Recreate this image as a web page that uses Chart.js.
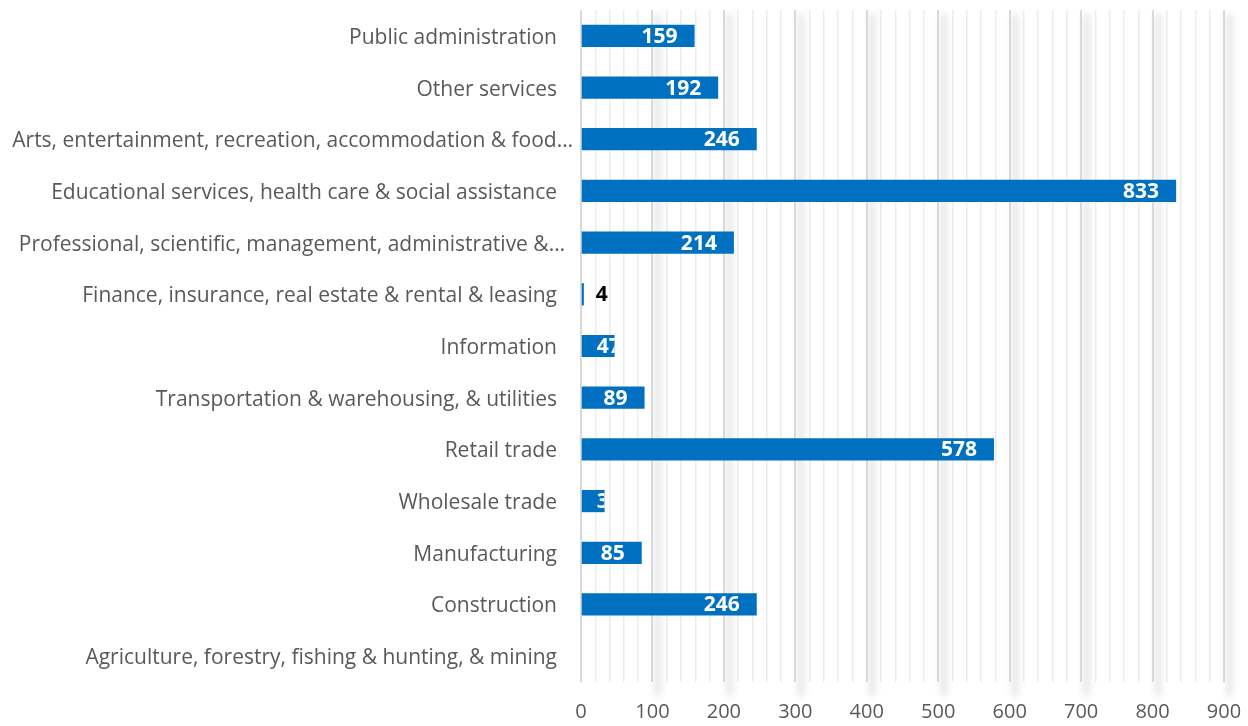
<!DOCTYPE html>
<html><head><meta charset="utf-8">
<script src="https://cdn.jsdelivr.net/npm/chart.js@4/dist/chart.umd.min.js"></script>
<style>html,body{margin:0;padding:0;background:#fff;}#wrap{width:1248px;height:726px;}</style>
</head><body><div id="wrap"><canvas id="c" width="1248" height="726"></canvas></div>
<script>
const categories = [
  "Public administration",
  "Other services",
  "Arts, entertainment, recreation, accommodation & food\u2026",
  "Educational services, health care & social assistance",
  "Professional, scientific, management, administrative &\u2026",
  "Finance, insurance, real estate & rental & leasing",
  "Information",
  "Transportation & warehousing, & utilities",
  "Retail trade",
  "Wholesale trade",
  "Manufacturing",
  "Construction",
  "Agriculture, forestry, fishing & hunting, & mining"
];
const values = [159, 192, 246, 833, 214, 4, 47, 89, 578, 33, 85, 246, null];
const axisMin = 0, axisMax = 900, majorStep = 100, minorStep = 20;

const FONT = "'Open Sans', 'DejaVu Sans', sans-serif";

const shadowPlugin = {
  id: 'majorShadow',
  beforeDatasetsDraw(chart) {
    const {ctx, chartArea, scales} = chart;
    const xs = scales.x;
    ctx.save();
    ctx.filter = 'blur(3px)';
    ctx.fillStyle = 'rgba(0,0,0,0.09)';
    for (let v = axisMin + majorStep; v <= axisMax; v += majorStep) {
      const px = xs.getPixelForValue(v);
      ctx.fillRect(px + 2, chartArea.top + 4, 7, chartArea.bottom - chartArea.top + 10);
    }
    ctx.restore();
    ctx.save();
    ctx.strokeStyle = '#d9d9d9';
    ctx.lineWidth = 2;
    for (let v = axisMin; v <= axisMax; v += majorStep) {
      const px = Math.round(xs.getPixelForValue(v));
      ctx.beginPath();
      ctx.moveTo(px, chartArea.top);
      ctx.lineTo(px, chartArea.bottom);
      ctx.stroke();
    }
    ctx.restore();
  }
};

// Category labels drawn at the category scale's positions (truncated labels overhang a bit, as in the original)
const catLabelPlugin = {
  id: 'catLabels',
  afterDraw(chart, args, opts) {
    const {ctx, scales} = chart;
    const ys = scales.y;
    ctx.save();
    ctx.font = "21px " + FONT;
    ctx.fillStyle = '#595959';
    ctx.textAlign = 'right';
    ctx.textBaseline = 'middle';
    categories.forEach((lab, i) => {
      const shift = lab.endsWith('\u2026') ? opts.ellipsisShift[i] || 0 : 0;
      ctx.fillText(lab, ys.right - 24 + shift, ys.getPixelForValue(i) + 2);
    });
    ctx.restore();
  }
};

const labelPlugin = {
  id: 'barLabels',
  afterDatasetsDraw(chart) {
    const {ctx} = chart;
    const meta = chart.getDatasetMeta(0);
    ctx.save();
    ctx.font = "bold 21px " + FONT;
    ctx.textBaseline = 'middle';
    meta.data.forEach((bar, i) => {
      const v = values[i];
      if (v === null || v === undefined) return;
      const txt = String(v);
      const w = ctx.measureText(txt).width;
      const left = bar.base, right = bar.x;
      const h = bar.height;
      if (right - left < 10) {
        ctx.fillStyle = '#000';
        ctx.textAlign = 'left';
        ctx.fillText(txt, right + 12, bar.y + 1);
        return;
      }
      let tx = Math.max(left + 15, right - 17 - w);
      ctx.save();
      ctx.beginPath();
      ctx.rect(left, bar.y - h / 2, right - left, h);
      ctx.clip();
      ctx.fillStyle = '#fff';
      ctx.textAlign = 'left';
      ctx.fillText(txt, tx, bar.y + 1);
      ctx.restore();
    });
    ctx.restore();
  }
};

new Chart(document.getElementById('c'), {
  type: 'bar',
  data: {
    labels: categories,
    datasets: [{
      data: values,
      backgroundColor: '#0070C0',
      borderWidth: 0,
      categoryPercentage: 1,
      barPercentage: 0.43
    }]
  },
  options: {
    indexAxis: 'y',
    responsive: false,
    animation: false,
    events: [],
    layout: {padding: {top: 10, right: 24, left: 0, bottom: 0}},
    plugins: {
      legend: {display: false},
      tooltip: {enabled: false},
      catLabels: {ellipsisShift: {2: 16, 4: 8}}
    },
    scales: {
      x: {
        min: axisMin, max: axisMax,
        border: {display: false},
        grid: {
          drawTicks: true,
          tickLength: 18,
          tickColor: 'rgba(0,0,0,0)',
          color: ctx => (ctx.tick && ctx.tick.value % majorStep === 0) ? 'rgba(0,0,0,0)' : '#ececec',
          lineWidth: 1.5
        },
        ticks: {
          stepSize: minorStep,
          autoSkip: false,
          maxRotation: 0,
          padding: 0,
          color: '#595959',
          font: {family: FONT, size: 20},
          callback: v => (v % majorStep === 0 ? String(v) : '')
        },
        afterFit: s => { s.height = 44; }
      },
      y: {
        border: {display: false},
        grid: {display: false, drawTicks: false},
        ticks: {display: false, padding: 0},
        afterFit: s => { s.width = 581; }
      }
    }
  },
  plugins: [shadowPlugin, labelPlugin, catLabelPlugin]
});
</script>
</body></html>
